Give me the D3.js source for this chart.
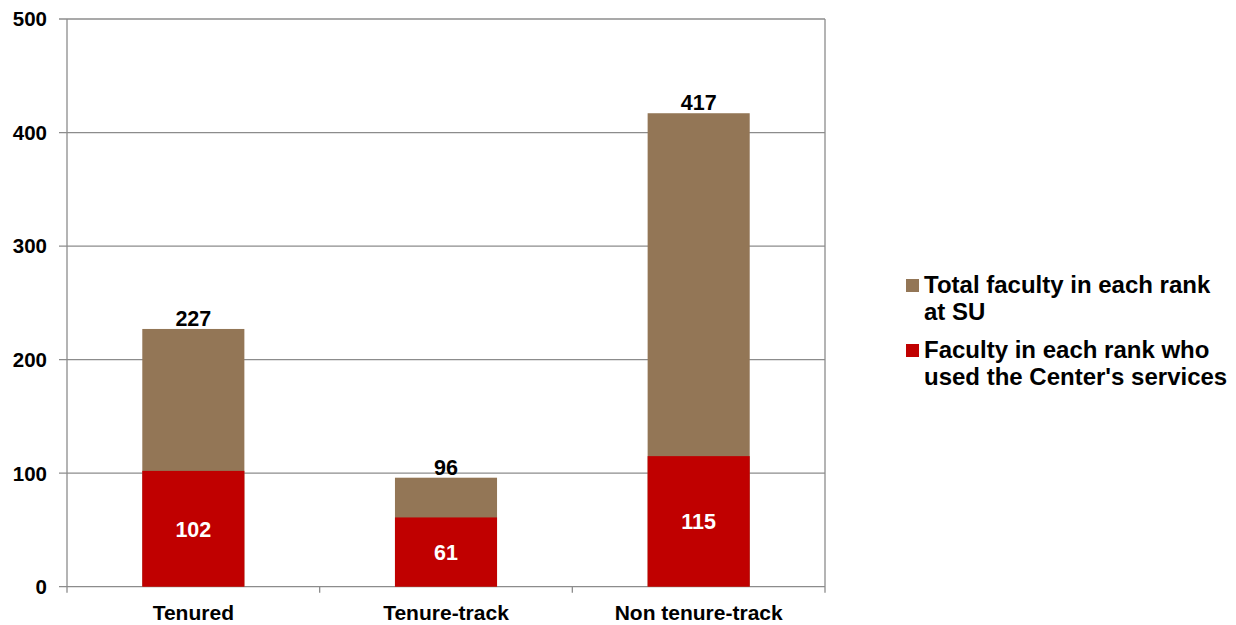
<!DOCTYPE html>
<html><head><meta charset="utf-8">
<script src="https://cdn.jsdelivr.net/npm/d3@7"></script>
<style>
html,body{margin:0;padding:0;background:#fff;}
text{font-family:"Liberation Sans",Arial,sans-serif;font-weight:bold;}
</style></head>
<body>
<svg id="c" width="1236" height="625"></svg>
<script>
const categories = ["Tenured", "Tenure-track", "Non tenure-track"];
const totalFaculty = [227, 96, 417];
const usedServices = [102, 61, 115];
const yTicks = [0, 100, 200, 300, 400, 500];
const seriesNames = ["Total faculty in each rank at SU", "Faculty in each rank who used the Center's services"];
const legendLines = [["Total faculty in each rank", "at SU"], ["Faculty in each rank who", "used the Center's services"]];
const colors = ["#937656", "#C00000"];

const svg = d3.select("#c");
const L = 67, R = 825, T = 19, B = 586.7;

const x = d3.scaleBand().domain(categories).range([L, R]).paddingInner(0.596).paddingOuter(0.298);
const y = d3.scaleLinear().domain([0, 500]).range([B, T]);
const step = x.step();

// gridlines
svg.append("g").selectAll("line").data(yTicks).join("line")
  .attr("x1", L - 8).attr("x2", R).attr("y1", d => y(d)).attr("y2", d => y(d))
  .attr("stroke", "#8c8c8c").attr("stroke-width", 1.3);
// right border
svg.append("line").attr("x1", R).attr("x2", R).attr("y1", T).attr("y2", B + 6)
  .attr("stroke", "#8c8c8c").attr("stroke-width", 1.3);
// y axis line
svg.append("line").attr("x1", L).attr("x2", L).attr("y1", T).attr("y2", B + 6)
  .attr("stroke", "#8c8c8c").attr("stroke-width", 1.3);
// category tick marks
svg.append("g").selectAll("line").data(d3.range(1, categories.length)).join("line")
  .attr("x1", i => L + i * step).attr("x2", i => L + i * step)
  .attr("y1", B).attr("y2", B + 6).attr("stroke", "#8c8c8c").attr("stroke-width", 1.3);

// y tick labels
svg.append("g").selectAll("text").data(yTicks).join("text")
  .attr("x", 47).attr("y", d => y(d)).attr("dy", "0.36em")
  .attr("text-anchor", "end").attr("font-size", 20.5).attr("fill", "#000").text(d => d);

// bars
svg.append("g").selectAll("rect").data(categories).join("rect")
  .attr("x", d => x(d)).attr("width", x.bandwidth())
  .attr("y", (d, i) => y(totalFaculty[i])).attr("height", (d, i) => y(0) - y(totalFaculty[i]))
  .attr("fill", colors[0]);
svg.append("g").selectAll("rect").data(categories).join("rect")
  .attr("x", d => x(d)).attr("width", x.bandwidth())
  .attr("y", (d, i) => y(usedServices[i])).attr("height", (d, i) => y(0) - y(usedServices[i]))
  .attr("fill", colors[1]);

// value labels
svg.append("g").selectAll("text").data(categories).join("text")
  .attr("x", d => x(d) + x.bandwidth() / 2).attr("y", (d, i) => y(totalFaculty[i]) - 3)
  .attr("text-anchor", "middle").attr("font-size", 21.5).attr("fill", "#000")
  .text((d, i) => totalFaculty[i]);
svg.append("g").selectAll("text").data(categories).join("text")
  .attr("x", d => x(d) + x.bandwidth() / 2).attr("y", (d, i) => (y(usedServices[i]) + y(0)) / 2)
  .attr("dy", "0.36em")
  .attr("text-anchor", "middle").attr("font-size", 21.5).attr("fill", "#fff")
  .text((d, i) => usedServices[i]);

// category labels
svg.append("g").selectAll("text").data(categories).join("text")
  .attr("x", d => x(d) + x.bandwidth() / 2).attr("y", 620)
  .attr("text-anchor", "middle").attr("font-size", 21).attr("fill", "#000").text(d => d);

// legend
const lg = svg.append("g");
const legendY = [293, 358];
legendLines.forEach((lines, i) => {
  lg.append("rect").attr("x", 906).attr("y", legendY[i] - 14).attr("width", 13).attr("height", 13).attr("fill", colors[i]);
  const t = lg.append("text").attr("x", 924).attr("y", legendY[i]).attr("font-size", 24).attr("fill", "#000");
  lines.forEach((ln, j) => t.append("tspan").attr("x", 924).attr("y", legendY[i] + j * 27).text(ln));
});
</script>
</body></html>
